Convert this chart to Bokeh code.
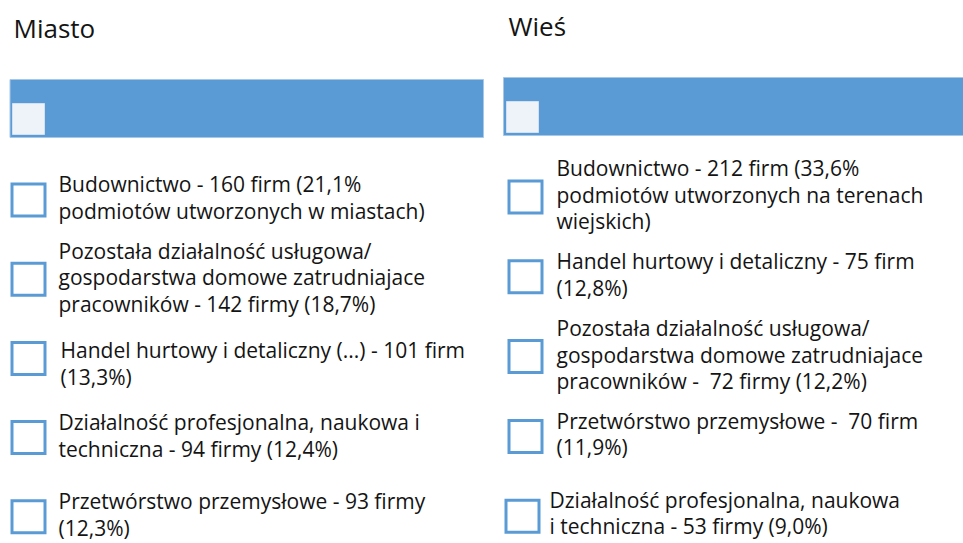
from bokeh.plotting import figure
from bokeh.models import Range1d, ColumnDataSource
from bokeh.core.properties import value
from bokeh.embed import file_html
from bokeh.resources import INLINE

# ---------------- data ----------------
titles = ["Miasto", "Wieś"]

miasto_firms = [160, 142, 101, 94, 93]
miasto_pct = [21.1, 18.7, 13.3, 12.4, 12.3]
miasto_lines = [
    ["Budownictwo - {n} firm ({p}%", "podmiotów utworzonych w miastach)"],
    ["Pozostała działalność usługowa/", "gospodarstwa domowe zatrudniajace",
     "pracowników - {n} firmy ({p}%)"],
    ["Handel hurtowy i detaliczny (...) - {n} firm", "({p}%)"],
    ["Działalność profesjonalna, naukowa i", "techniczna - {n} firmy ({p}%)"],
    ["Przetwórstwo przemysłowe - {n} firmy", "({p}%)"],
]

wies_firms = [212, 75, 72, 70, 53]
wies_pct = [33.6, 12.8, 12.2, 11.9, 9.0]
wies_lines = [
    ["Budownictwo - {n} firm ({p}%", "podmiotów utworzonych na terenach", "wiejskich)"],
    ["Handel hurtowy i detaliczny - {n} firm", "({p}%)"],
    ["Pozostała działalność usługowa/", "gospodarstwa domowe zatrudniajace",
     "pracowników -\u00a0 {n} firmy ({p}%)"],
    ["Przetwórstwo przemysłowe -\u00a0 {n} firm", "({p}%)"],
    ["Działalność profesjonalna, naukowa", "i techniczna - {n} firmy ({p}%)"],
]

# ---------------- layout / style ----------------
W, H = 963, 543
BLUE = "#5B9BD5"
TEXT = "#141414"
FONT = value("Open Sans")
TITLE_PX = 26
BODY_PX = 21
BASE_SHIFT = 0.43  # renderer places text lower than the alphabetic baseline by ~0.43 em

columns = [
    dict(title_x=13, title_y=39, bar=(9.5, 483, 79, 137), hdr_sq=(12, 44, 103, 134),
         box_x=10, text_x=58, top0=182, step=79.2,
         dx_box=[0, 0, 0, 0, 0], dx_text=[0, 0, 2, 0, 0], dy_text=[0, 0, 7.5, 0, 0],
         firms=miasto_firms, pct=miasto_pct, lines=miasto_lines),
    dict(title_x=508, title_y=37, bar=(503, 963, 77, 135), hdr_sq=(506, 538, 101, 132),
         box_x=507, text_x=556, top0=179, step=79.8,
         dx_box=[0, 0, 0, 0, -3], dx_text=[0, 0, 0, 0, -7], dy_text=[0, 0, 0, 0, -1],
         firms=wies_firms, pct=wies_pct, lines=wies_lines),
]

BOX = 36
LW = 3
LINE_H = 26.5


def fmt_pct(p):
    return f"{p:.1f}".replace(".", ",")


p = figure(width=W, height=H, x_range=Range1d(0, W), y_range=Range1d(H, 0),
           min_border=0, toolbar_location=None, output_backend="svg",
           x_axis_location=None, y_axis_location=None)
p.grid.visible = False
p.outline_line_color = None
p.background_fill_color = "white"
p.border_fill_color = "white"

tx, ty, tt = [], [], []
title_x, title_y = [], []
bl, br, bt, bb = [], [], [], []
hl, hr, ht, hb = [], [], [], []
sl, sr, st, sb = [], [], [], []

for ci, col in enumerate(columns):
    title_x.append(col["title_x"])
    title_y.append(col["title_y"] - BASE_SHIFT * TITLE_PX)
    l, r, t, b = col["bar"]
    bl.append(l); br.append(r); bt.append(t); bb.append(b)
    l, r, t, b = col["hdr_sq"]
    hl.append(l); hr.append(r); ht.append(t); hb.append(b)
    for i, (n, pc, lines) in enumerate(zip(col["firms"], col["pct"], col["lines"])):
        top = col["top0"] + i * col["step"]
        x0 = col["box_x"] + col["dx_box"][i]
        sl.append(x0 + LW / 2); sr.append(x0 + BOX - LW / 2)
        st.append(top + LW / 2); sb.append(top + BOX - 1 - LW / 2)
        center = top + (BOX - 1) / 2
        first = center - 6.5 - (len(lines) - 2) * 13 + col["dy_text"][i]
        for k, ln in enumerate(lines):
            tx.append(col["text_x"] + col["dx_text"][i])
            ty.append(first + k * LINE_H - BASE_SHIFT * BODY_PX)
            tt.append(ln.format(n=n, p=fmt_pct(pc)))

# header bars
p.quad(left=bl, right=br, top=bt, bottom=bb, fill_color=BLUE, line_color="#A7C7E9", line_width=1)
p.quad(left=hl, right=hr, top=ht, bottom=hb, fill_color="#EEF2F9", line_color="#D2E0F2", line_width=1)

# item boxes
p.quad(left=sl, right=sr, top=st, bottom=sb, fill_color="white", line_color=BLUE,
       line_width=LW, line_join="miter")

# titles
p.text(x=title_x, y=title_y, text=titles, text_font=FONT, text_font_size=f"{TITLE_PX}px",
       text_baseline="alphabetic", text_align="left", text_color=TEXT)

# item texts
src = ColumnDataSource(dict(x=tx, y=ty, text=tt))
p.text(x="x", y="y", text="text", source=src, text_font=FONT, text_font_size=f"{BODY_PX}px",
       text_baseline="alphabetic", text_align="left", text_color=TEXT)

open("out.html", "w").write(file_html(p, INLINE))
